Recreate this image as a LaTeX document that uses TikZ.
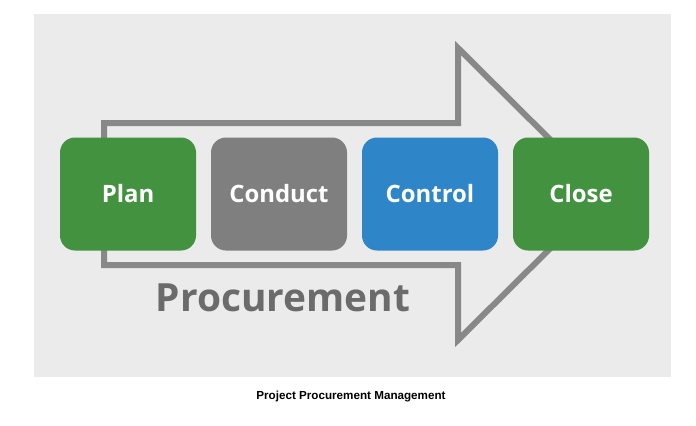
\documentclass[tikz,border=0pt]{standalone}
\usepackage{fontspec}
\setmainfont{Liberation Sans}
\newfontfamily\stagefont{Open Sans}
\usetikzlibrary{positioning}
\definecolor{bggray}{HTML}{EBEBEB}
\definecolor{arrowgray}{HTML}{888888}
\definecolor{plangreen}{HTML}{43923F}
\definecolor{conductgray}{HTML}{7F7F7F}
\definecolor{controlblue}{HTML}{2E86C8}
\definecolor{labelgray}{HTML}{6B6B6B}

\begin{document}
\begin{tikzpicture}[x=1bp,y=-1bp,
    stagebox/.style={minimum width=136bp,minimum height=113bp,rounded corners=15bp,inner sep=0pt,outer sep=0pt,
                     text=white,font=\stagefont\bfseries\fontsize{24}{30}\selectfont}]
        \useasboundingbox (0,0) rectangle (696,425);
        \fill[bggray] (34,14) rectangle (671,377);

        % big arrow behind the stages
        \draw[arrowgray,line width=6bp,line join=miter] (104,123) -- (458,123) -- (458,48) -- (605,194)
            -- (458,340) -- (458,265) -- (104,265) -- cycle;

        \node[stagebox,fill=plangreen] (plan) at (128,194) {Plan};
        \node[stagebox,fill=conductgray,right=15bp of plan] (conduct) {Conduct};
        \node[stagebox,fill=controlblue,right=15bp of conduct] (control) {Control};
        \node[stagebox,fill=plangreen,right=15bp of control] (close) {Close};

        \node[text=labelgray,font=\stagefont\bfseries\fontsize{39}{42}\selectfont] (procurement) at (283,298) {Procurement};

        \node[font=\bfseries\fontsize{11.7}{14}\selectfont] (caption) at (351,397) {Project Procurement Management};
    \end{tikzpicture}
\end{document}
